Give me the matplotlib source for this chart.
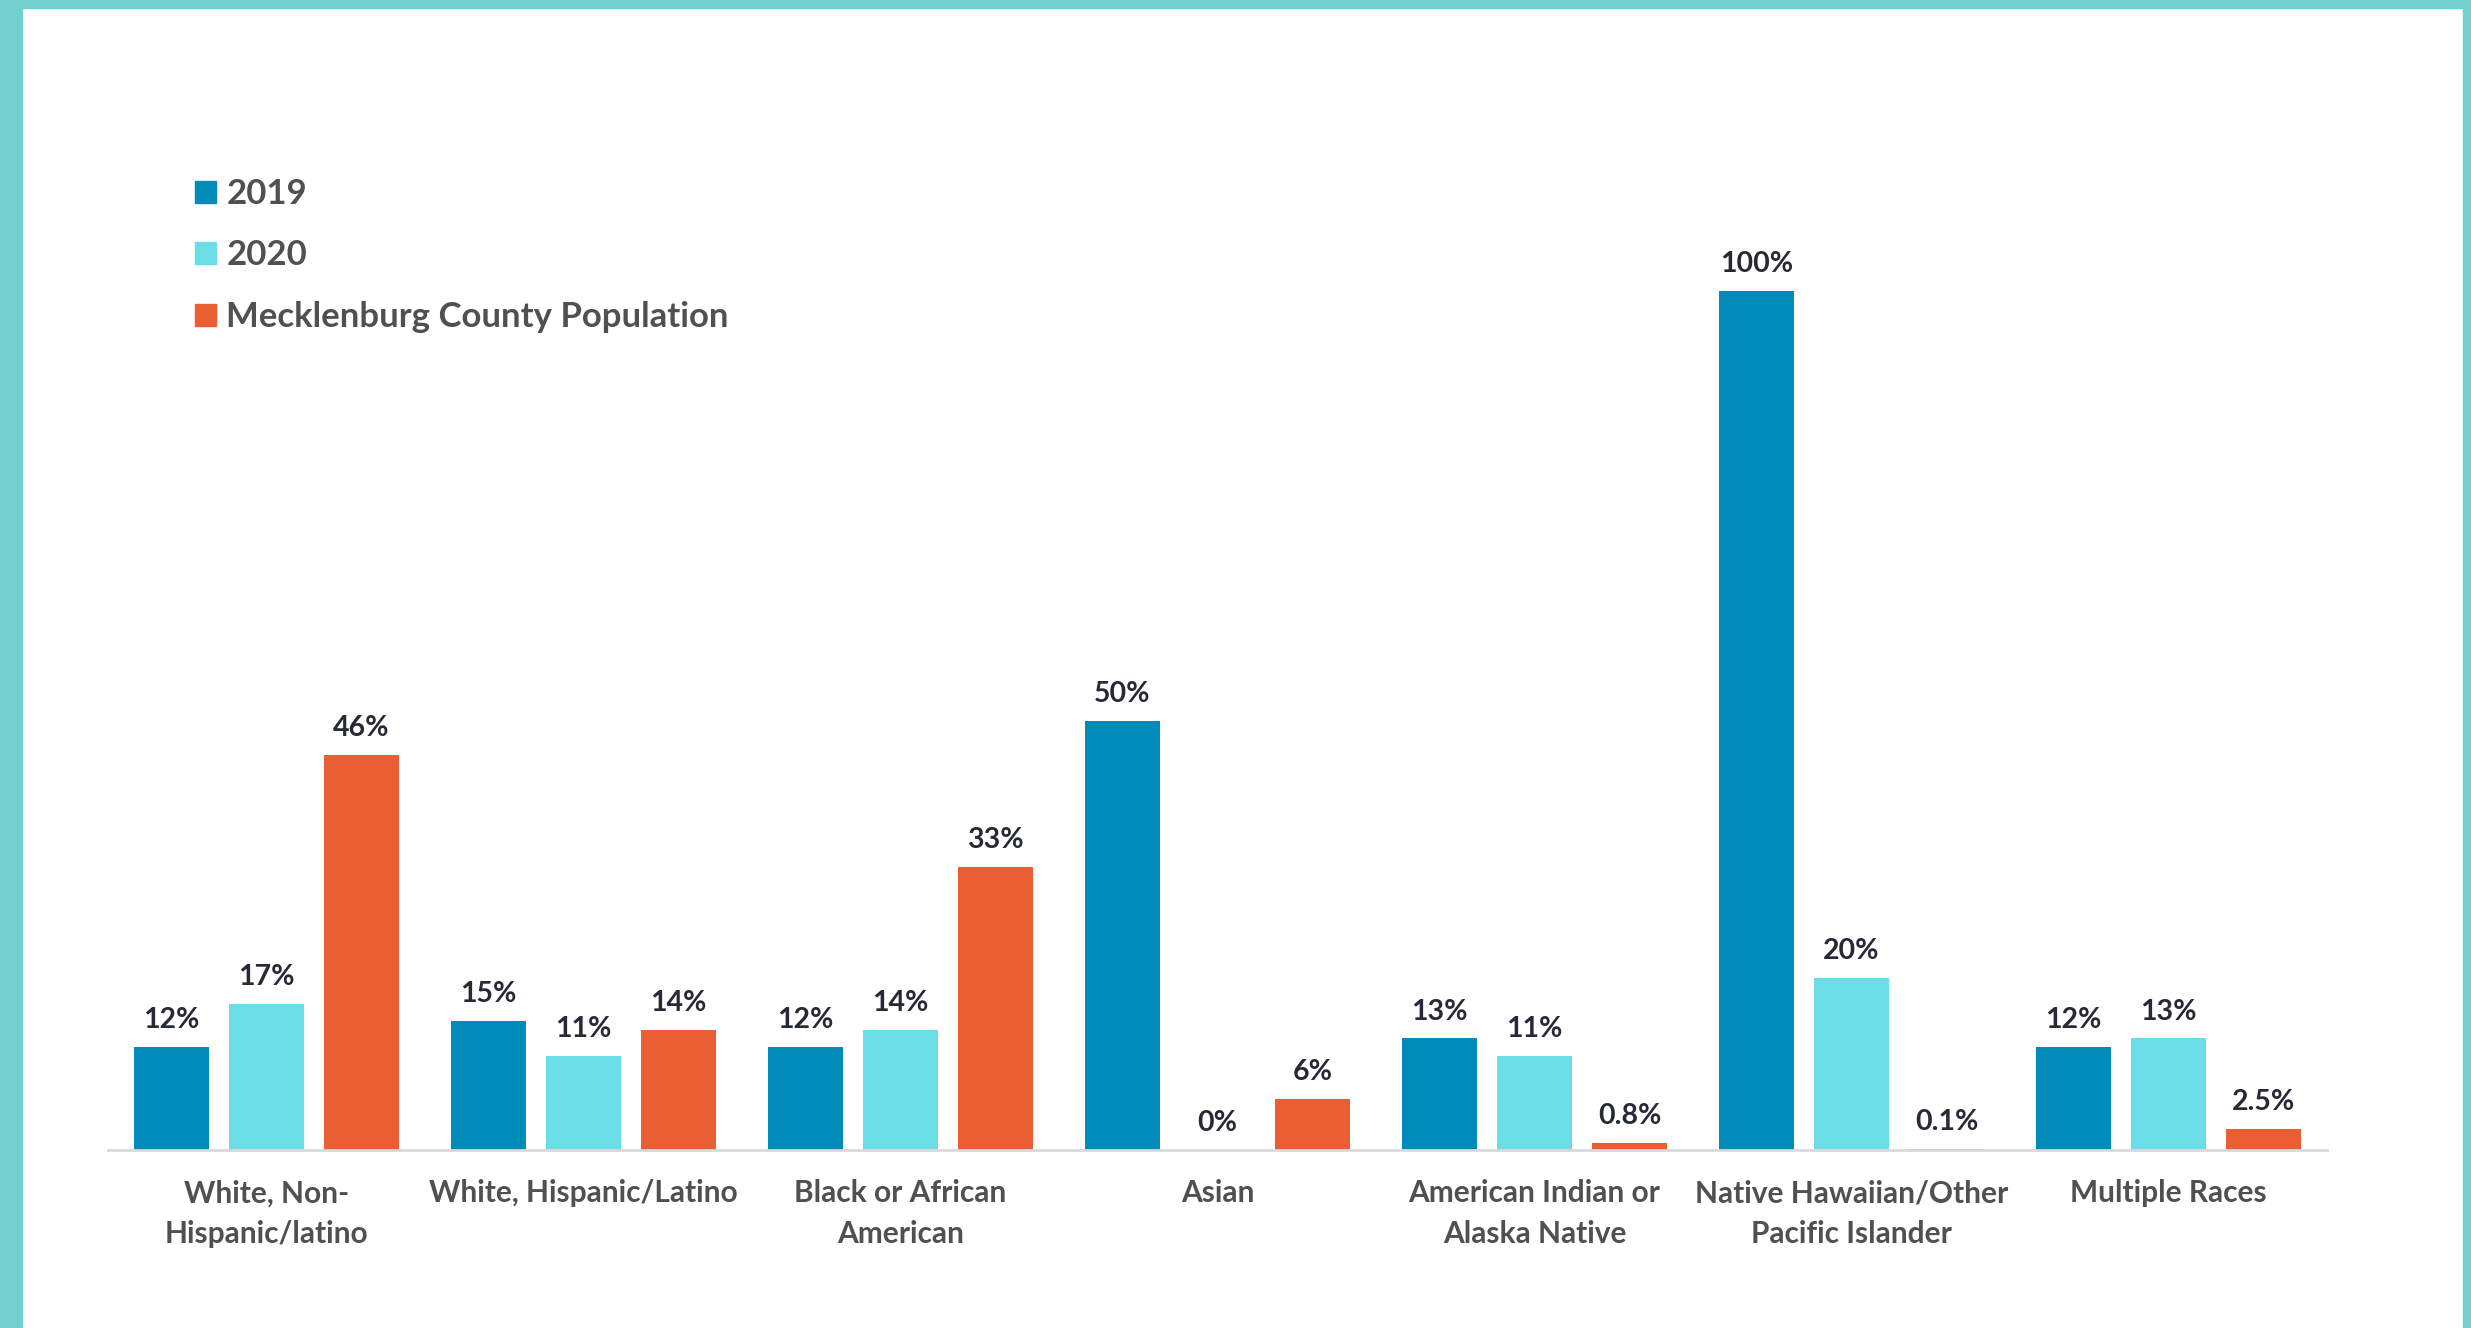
import numpy as np
import matplotlib.pyplot as plt
from matplotlib.patches import Rectangle, Patch

plt.rcParams['font.family'] = ['Lato', 'DejaVu Sans']

categories = ["White, Non-\nHispanic/latino", "White, Hispanic/Latino", "Black or African\nAmerican",
              "Asian", "American Indian or\nAlaska Native", "Native Hawaiian/Other\nPacific Islander",
              "Multiple Races"]
series_names = ["2019", "2020", "Mecklenburg County Population"]
vals_2019 = [12, 15, 12, 50, 13, 100, 12]
vals_2020 = [17, 11, 14, 0, 11, 20, 13]
vals_pop = [46, 14, 33, 6, 0.8, 0.1, 2.5]

colors = ['#008BBA', '#6BDDE6', '#E95E33']
frame_col = '#74CFCF'

fig = plt.figure(figsize=(24.71, 13.28), dpi=100)

# teal frame round the picture
fig.patches.append(Rectangle((0, 0), 22 / 2471, 1, transform=fig.transFigure, color=frame_col, zorder=0))
fig.patches.append(Rectangle((2463 / 2471, 0), 8 / 2471, 1, transform=fig.transFigure, color=frame_col, zorder=0))
fig.patches.append(Rectangle((0, 1 - 8 / 1328), 1, 8 / 1328, transform=fig.transFigure, color=frame_col, zorder=0))

ax = fig.add_axes([0.0437, 0.134, 0.898, 0.776])

x = np.arange(len(categories))
w = 0.237
step = 0.3

for i, (vals, col) in enumerate(zip([vals_2019, vals_2020, vals_pop], colors)):
    bars = ax.bar(x + (i - 1) * step, vals, w, color=col, label=series_names[i])
    for b, v in zip(bars, vals):
        txt = f"{v:g}%"
        ax.annotate(txt, (b.get_x() + b.get_width() / 2, b.get_height()),
                    xytext=(0, 10), textcoords='offset points', ha='center', va='bottom',
                    fontsize=20.5, fontweight='bold', color='#252A36')

ax.set_xlim(-0.5, 6.5)
ax.set_ylim(0, 120)
ax.set_xticks(x)
ax.set_xticklabels(categories, fontsize=21.5, fontweight='bold', color='#505050', linespacing=1.55)
ax.tick_params(axis='x', length=0, pad=21)
ax.set_yticks([])
for s in ['top', 'right', 'left']:
    ax.spines[s].set_visible(False)
ax.spines['bottom'].set_color('#D9D9D9')
ax.spines['bottom'].set_linewidth(2)

handles = [Patch(color=c) for c in colors]
fig.legend(handles, series_names, loc='upper left', bbox_to_anchor=(0.079, 0.866),
           frameon=False, handlelength=0.6, handleheight=0.6, handletextpad=0.3,
           labelspacing=0.85, borderpad=0, borderaxespad=0,
           prop={'weight': 'bold', 'size': 25})
for t in fig.legends[0].get_texts():
    t.set_color('#505050')

fig.savefig('out.png', dpi=100, facecolor='white')
